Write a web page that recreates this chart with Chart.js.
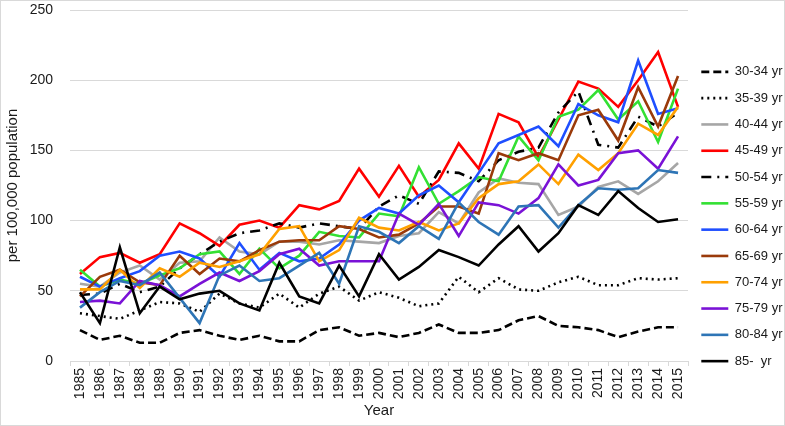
<!DOCTYPE html>
<html>
<head>
<meta charset="utf-8">
<script src="https://cdn.jsdelivr.net/npm/chart.js@4/dist/chart.umd.min.js"></script>
<style>
  html, body { margin: 0; padding: 0; background: #fff; }
  #wrap { position: relative; width: 785px; height: 426px; }
  #frame { position: absolute; left: 0; top: 0; width: 783px; height: 424px; border: 1px solid #d9d9d9; pointer-events: none; }
</style>
</head>
<body>
<div id="wrap">
  <canvas id="rateChart"></canvas>
  <div id="frame"></div>
</div>
<script>
// x axis categories
const years = ['1985','1986','1987','1988','1989','1990','1991','1992','1993','1994','1995','1996','1997','1998','1999','2000',
               '2001','2002','2003','2004','2005','2006','2007','2008','2009','2010','2011','2012','2013','2014','2015'];

// rates per 100,000 population, by age group
const age30_34 = [22, 15, 18, 13, 13, 20, 22, 18, 15, 18, 14, 14, 22, 24, 18, 20, 17, 20, 26, 20, 20, 22, 29, 32, 25, 24, 22, 17, 21, 24, 24];
const age35_39 = [34, 32, 30, 36, 42, 41, 35, 48, 41, 38, 48, 38, 48, 53, 43, 49, 45, 39, 41, 60, 49, 59, 51, 50, 56, 60, 54, 54, 59, 58, 59];
const age40_44 = [55, 53, 63, 68, 58, 70, 71, 88, 78, 76, 85, 85, 83, 86, 85, 84, 89, 91, 106, 98, 120, 130, 127, 126, 104, 110, 124, 128, 119, 128, 141];
const age45_49 = [62, 74, 77, 70, 76, 98, 91, 82, 97, 100, 95, 111, 108, 114, 137, 117, 139, 117, 129, 155, 137, 176, 170, 145, 172, 199, 194, 181, 200, 220, 181];
const age50_54 = [47, 48, 55, 49, 53, 66, 76, 85, 91, 93, 98, 95, 98, 96, 94, 110, 118, 112, 135, 134, 128, 143, 149, 152, 177, 192, 154, 152, 174, 167, 177];
const age55_59 = [65, 53, 58, 55, 61, 66, 76, 78, 62, 80, 66, 75, 92, 89, 88, 105, 103, 138, 112, 121, 131, 128, 160, 143, 174, 179, 193, 172, 185, 156, 194];
const age60_64 = [60, 53, 59, 64, 75, 78, 73, 60, 84, 65, 77, 71, 73, 83, 100, 109, 105, 118, 125, 113, 134, 155, 161, 167, 153, 183, 175, 170, 214, 176, 180];
const age65_69 = [46, 60, 65, 56, 54, 75, 62, 73, 71, 79, 85, 86, 86, 96, 94, 88, 90, 98, 110, 110, 105, 148, 143, 148, 143, 175, 179, 157, 195, 167, 203];
const age70_74 = [51, 51, 65, 52, 66, 60, 70, 67, 71, 76, 94, 96, 71, 79, 102, 95, 93, 99, 93, 98, 116, 126, 128, 140, 126, 147, 136, 148, 169, 161, 181];
const age75_79 = [42, 43, 41, 57, 54, 46, 55, 63, 57, 64, 76, 80, 68, 71, 71, 71, 105, 97, 112, 89, 113, 111, 105, 116, 140, 125, 129, 148, 150, 137, 160];
const age80_84 = [38, 49, 57, 54, 63, 45, 27, 61, 68, 57, 59, 68, 77, 55, 96, 92, 84, 96, 87, 113, 99, 90, 110, 111, 95, 111, 123, 122, 123, 136, 134];
const age85 = [49, 27, 81, 34, 53, 44, 48, 50, 41, 36, 70, 46, 41, 68, 46, 76, 58, 67, 79, 74, 68, 83, 96, 78, 91, 111, 104, 121, 109, 99, 101];

// y axis ticks
const yTicks = [0, 50, 100, 150, 200, 250];

const fontFam = '"Liberation Sans", Arial, sans-serif';
const textCol = '#1a1a1a';

function series(label, data, color, dash) {
    return {
        label: label,
        data: data,
        borderColor: color,
        backgroundColor: color,
        borderWidth: 2.6,
        borderDash: dash || [],
        pointRadius: 0,
        pointHoverRadius: 0,
        tension: 0,
        fill: false
    };
}

const datasets = [
    series('30-34 yr', age30_34, '#000000', [8, 4]),
    series('35-39 yr', age35_39, '#000000', [2, 4]),
    series('40-44 yr', age40_44, '#a6a6a6'),
    series('45-49 yr', age45_49, '#ff0000'),
    series('50-54 yr', age50_54, '#000000', [10, 6, 2, 6]),
    series('55-59 yr', age55_59, '#33e033'),
    series('60-64 yr', age60_64, '#1f4fff'),
    series('65-69 yr', age65_69, '#9a3a0a'),
    series('70-74 yr', age70_74, '#ffa000'),
    series('75-79 yr', age75_79, '#7a12d6'),
    series('80-84 yr', age80_84, '#2e75b6'),
    series('85-  yr', age85, '#000000')
];
// later series drawn on top
datasets.forEach((d, i) => { d.order = datasets.length - i; });

const ctx = document.getElementById('rateChart');
new Chart(ctx, {
    type: 'line',
    data: { labels: years, datasets: datasets },
    options: {
        responsive: true,
        maintainAspectRatio: false,
        animation: false,
        devicePixelRatio: 1,
        layout: { padding: { top: 10, right: 0, bottom: 3, left: 0 } },
        plugins: {
            tooltip: { enabled: false },
            legend: {
                position: 'right',
                maxWidth: 97,
                labels: {
                    usePointStyle: true,
                    pointStyle: 'line',
                    pointStyleWidth: 27,
                    padding: 13.3,
                    color: textCol,
                    font: { family: fontFam, size: 13 },
                    sort: (a, b) => a.datasetIndex - b.datasetIndex,
                    generateLabels: chart => {
                        const items = Chart.defaults.plugins.legend.labels.generateLabels(chart);
                        items.forEach(it => {
                            const ds = chart.data.datasets[it.datasetIndex];
                            it.lineDash = ds.borderDash;
                            it.lineWidth = 2.6;
                            it.strokeStyle = ds.borderColor;
                        });
                        return items;
                    }
                }
            }
        },
        scales: {
            x: {
                offset: true,
                grid: {
                    offset: true,
                    drawOnChartArea: false,
                    tickLength: 5,
                    color: '#d9d9d9'
                },
                border: { color: '#d9d9d9' },
                ticks: {
                    autoSkip: false,
                    minRotation: 90,
                    maxRotation: 90,
                    padding: 2,
                    color: textCol,
                    font: { family: fontFam, size: 14 }
                },
                title: {
                    display: true,
                    text: 'Year',
                    color: textCol,
                    font: { family: fontFam, size: 15 },
                    padding: { top: 3, bottom: 3 }
                },
                afterFit: axis => {
                    axis.height = 62;
                    axis.paddingLeft = 0;
                    axis.paddingRight = 0;
                }
            },
            y: {
                min: 0,
                max: 250,
                afterBuildTicks: axis => { axis.ticks = yTicks.map(v => ({ value: v })); },
                grid: { color: '#d9d9d9', drawTicks: false },
                border: { display: false },
                ticks: {
                    padding: 17,
                    color: textCol,
                    font: { family: fontFam, size: 14 }
                },
                title: {
                    display: true,
                    text: 'per 100,000 population',
                    color: textCol,
                    font: { family: fontFam, size: 15 },
                    padding: { top: 4, bottom: 8 }
                },
                afterFit: axis => {
                    axis.width = 70;
                    axis.paddingTop = 0;
                    axis.paddingBottom = 0;
                }
            }
        }
    }
});
</script>
</body>
</html>
